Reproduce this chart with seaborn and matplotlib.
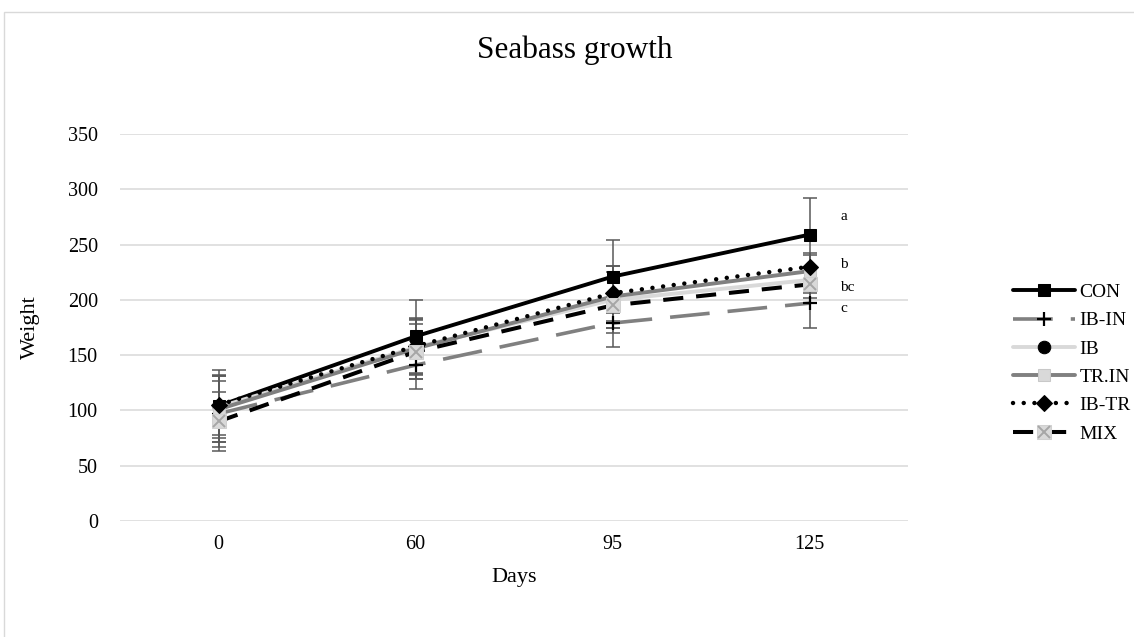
import matplotlib
matplotlib.use('Agg')
import matplotlib.pyplot as plt
import matplotlib.patches as mpatches
from matplotlib.legend_handler import HandlerTuple
import numpy as np
import seaborn as sns

# Data
days = ['0', '60', '95', '125']
series_names = ['CON', 'IB-IN', 'IB', 'TR.IN', 'IB-TR', 'MIX']
con = [104, 167, 221, 259]
ib_in = [97, 141, 179, 197]
ib = [103, 157, 200, 218]
tr_in = [101, 156, 203, 226]
ib_tr = [105, 158, 206, 230]
mix = [90, 153, 195, 214]
con_sd = [33, 33, 33, 33]
ib_in_sd = [30, 22, 22, 22]
ib_sd = [28, 25, 25, 12]
tr_in_sd = [30, 28, 28, 15]
ib_tr_sd = [27, 25, 25, 12]
mix_sd = [27, 25, 25, 12]
sig_letters = ['a', 'b', 'bc', 'c']
sig_y = [275, 232, 211, 192]

sns.set_theme(style='white')
plt.rcParams['font.family'] = ['Liberation Serif', 'DejaVu Serif']
plt.rcParams['text.color'] = 'black'
plt.rcParams['axes.labelcolor'] = 'black'
plt.rcParams['xtick.color'] = 'black'
plt.rcParams['ytick.color'] = 'black'

fig = plt.figure(figsize=(11.34, 6.37), dpi=100)
W, H = 1134, 637
ax = fig.add_axes([120 / W, 1 - 521 / H, 788 / W, 387 / H])

# chart area border (cut off at right/bottom like the source)
fig.patches.append(mpatches.Rectangle((4 / W, -0.1), 1.2, 1 - 12 / H + 0.1,
                                      transform=fig.transFigure, fill=False,
                                      edgecolor='#d9d9d9', lw=1.0))

x = np.arange(len(days))
values = [con, ib_in, ib, tr_in, ib_tr, mix]
sds = [con_sd, ib_in_sd, ib_sd, tr_in_sd, ib_tr_sd, mix_sd]

styles = {
    'CON': dict(color='black', linestyle='-', lw=2.8, marker='s', markersize=9,
                markerfacecolor='black', markeredgecolor='black'),
    'IB-IN': dict(color='#808080', linestyle=(0, (11, 5)), lw=2.6, marker='+',
                  markersize=10, markeredgewidth=1.6, markeredgecolor='black'),
    'IB': dict(color='#d9d9d9', linestyle='-', lw=2.8, marker='o', markersize=9,
               markerfacecolor='black', markeredgecolor='black'),
    'TR.IN': dict(color='#808080', linestyle='-', lw=2.8, marker='s', markersize=9,
                  markerfacecolor='#d9d9d9', markeredgecolor='#c8c8c8'),
    'IB-TR': dict(color='black', linestyle=(0, (0.01, 2.4)), lw=3.2,
                  dash_capstyle='round', marker='D', markersize=8,
                  markerfacecolor='black', markeredgecolor='black'),
    'MIX': dict(color='black', linestyle=(0, (5, 3.2)), lw=2.9, marker='s',
                markersize=10, markerfacecolor='#d9d9d9', markeredgecolor='#d0d0d0'),
}

# error bars underneath
for vals, sd in zip(values, sds):
    ax.errorbar(x, vals, yerr=sd, fmt='none', ecolor='#595959', elinewidth=1.1,
                capsize=5, capthick=1.1, zorder=2)

handles = []
for name, vals in zip(series_names, values):
    sns.lineplot(x=x, y=vals, ax=ax, label=name, zorder=3, **styles[name])
    handles.append(ax.get_lines()[-1])

# X overlay on MIX markers
xo, = ax.plot(x, mix, linestyle='none', marker='x', markersize=8,
              markeredgewidth=1.4, color='#a6a6a6', zorder=4)
handles[-1] = (handles[-1], xo)

if ax.legend_:
    ax.legend_.remove()
fig.legend(handles, series_names, loc='center left',
           bbox_to_anchor=(995 / W, 1 - 363 / H), frameon=False, fontsize=14,
           handlelength=3.2, handletextpad=0.25, labelspacing=0.55,
           handler_map={tuple: HandlerTuple(ndivide=1, pad=0)})

for lt, ly in zip(sig_letters, sig_y):
    ax.text(3 + 0.155, ly, lt, fontsize=11, ha='left', va='center')

ax.set_xlim(-0.5, 3.5)
ax.set_ylim(0, 350)
ax.set_yticks(range(0, 351, 50))
ax.set_xticks(x)
ax.set_xticklabels(days)
ax.yaxis.grid(True, color='#d9d9d9', lw=1.1)
ax.xaxis.grid(False)
ax.set_axisbelow(True)
for s in ax.spines.values():
    s.set_visible(False)
ax.tick_params(axis='both', length=0, labelsize=14.5)
ax.tick_params(axis='y', pad=16)
ax.tick_params(axis='x', pad=10)
ax.set_xlabel('Days', fontsize=16)
ax.set_ylabel('Weight', fontsize=16)
ax.yaxis.set_label_coords(-0.1015, 0.5)
ax.xaxis.set_label_coords(0.5, -0.121)

fig.text(575 / W, 1 - 58 / H, 'Seabass growth', fontsize=22.5, ha='center',
         va='baseline')

fig.savefig('out.png', dpi=100)
